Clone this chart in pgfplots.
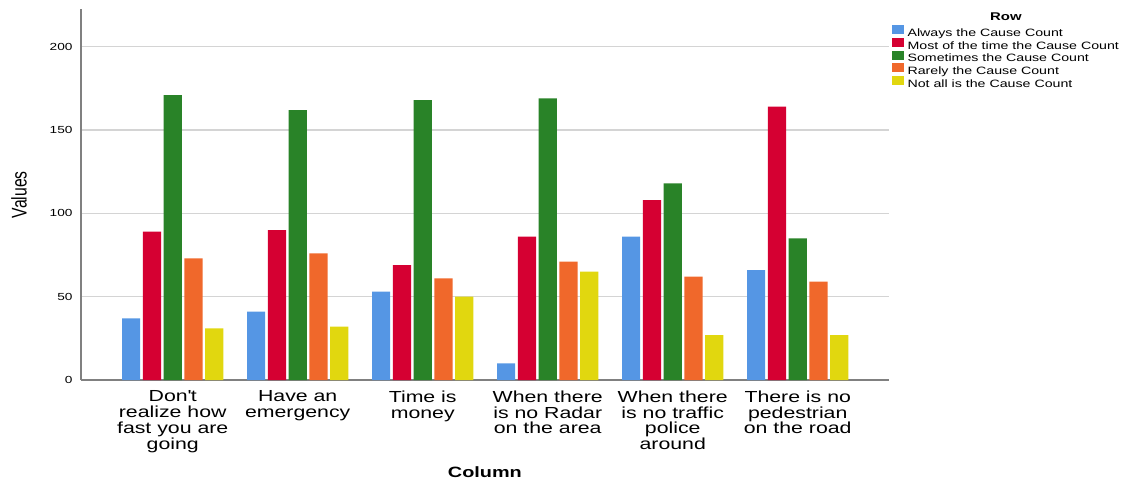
\documentclass[border=0pt]{standalone}
\usepackage{fontspec}
\setmainfont{Liberation Sans}[FakeStretch=1.33]
\newfontfamily\plainsans{Liberation Sans}
\usepackage{graphicx}
\usepackage{pgfplots}
\pgfplotsset{compat=1.18}
\definecolor{cblue}{HTML}{5596E4}
\definecolor{cred}{HTML}{D50032}
\definecolor{cgreen}{HTML}{298328}
\definecolor{corange}{HTML}{F0682B}
\definecolor{cyellow}{HTML}{E1D70F}
\definecolor{axisgray}{HTML}{808080}
\definecolor{gridgray}{HTML}{D4D4D4}
\begin{document}
\begin{tikzpicture}
\useasboundingbox (-60.75pt,-77.25pt) rectangle (780.75pt,285pt);
\begin{axis}[
  at={(0pt,0pt)}, anchor=south west,
  scale only axis, width=605.8pt, height=278pt,
  clip mode=individual,
  ybar, bar width=0.1456,
  xmin=-0.7336, xmax=5.728, ymin=0, ymax=222.4,
  xtick={0,1,2,3,4,5},
  xticklabels={{Don\textquotesingle t\\realize how\\fast you are\\going},{Have an\\emergency},{Time is\\money},{When there\\is no Radar\\on the area},{When there\\is no traffic\\police\\around},{There is no\\pedestrian\\on the road}},
  ytick={0,50,100,150,200},
  major tick length=0pt,
  axis x line*=bottom, axis y line*=left,
  axis line style={draw=axisgray, line width=1pt},
  ymajorgrids, grid style={gridgray, line width=0.8pt},
  /pgf/number format/assume math mode=true,
  yticklabel style={font=\fontsize{7.7}{9}\selectfont, inner sep=0pt, xshift=-6.2pt},
  xticklabel style={font=\fontsize{12}{11.9}\selectfont, align=center, inner sep=0pt, yshift=-7.8pt},
  xlabel={Column},
  xlabel style={font=\bfseries\fontsize{11.2}{13}\selectfont, at={(axis description cs:0.5,-0.248)}, anchor=center},
  ylabel={\scalebox{1}[1.35]{\plainsans\fontsize{11.8}{14}\selectfont Values}},
  ylabel style={at={(axis description cs:-0.0768,0.5)}, anchor=center},
  legend style={at={(axis description cs:1.0035,0.9574)}, anchor=north west, draw=none, fill=none,
    inner sep=0pt, outer sep=0pt, row sep=-1.45pt, font=\fontsize{8}{9}\selectfont,
    nodes={inner sep=0.72pt, text height=6.2pt, text depth=1.8pt}},
  legend cell align=left,
  legend image code/.code={\fill[#1] (0pt,-0.5pt) rectangle (9.5pt,6.25pt); \path (11.3pt,0pt);},
]
\addplot[fill=cblue, draw=none, bar shift=-0.3328] coordinates {(0,37) (1,41) (2,53) (3,10) (4,86) (5,66)};
\addlegendentry{Always the Cause Count}
\addplot[fill=cred, draw=none, bar shift=-0.1664] coordinates {(0,89) (1,90) (2,69) (3,86) (4,108) (5,164)};
\addlegendentry{Most of the time the Cause Count}
\addplot[fill=cgreen, draw=none, bar shift=0] coordinates {(0,171) (1,162) (2,168) (3,169) (4,118) (5,85)};
\addlegendentry{Sometimes the Cause Count}
\addplot[fill=corange, draw=none, bar shift=0.1664] coordinates {(0,73) (1,76) (2,61) (3,71) (4,62) (5,59)};
\addlegendentry{Rarely the Cause Count}
\addplot[fill=cyellow, draw=none, bar shift=0.3328] coordinates {(0,31) (1,32) (2,50) (3,65) (4,27) (5,27)};
\addlegendentry{Not all is the Cause Count}
\node[font=\bfseries\fontsize{8.4}{10}\selectfont] at (axis description cs:1.145,0.980) {Row};
\end{axis}
\end{tikzpicture}
\end{document}
